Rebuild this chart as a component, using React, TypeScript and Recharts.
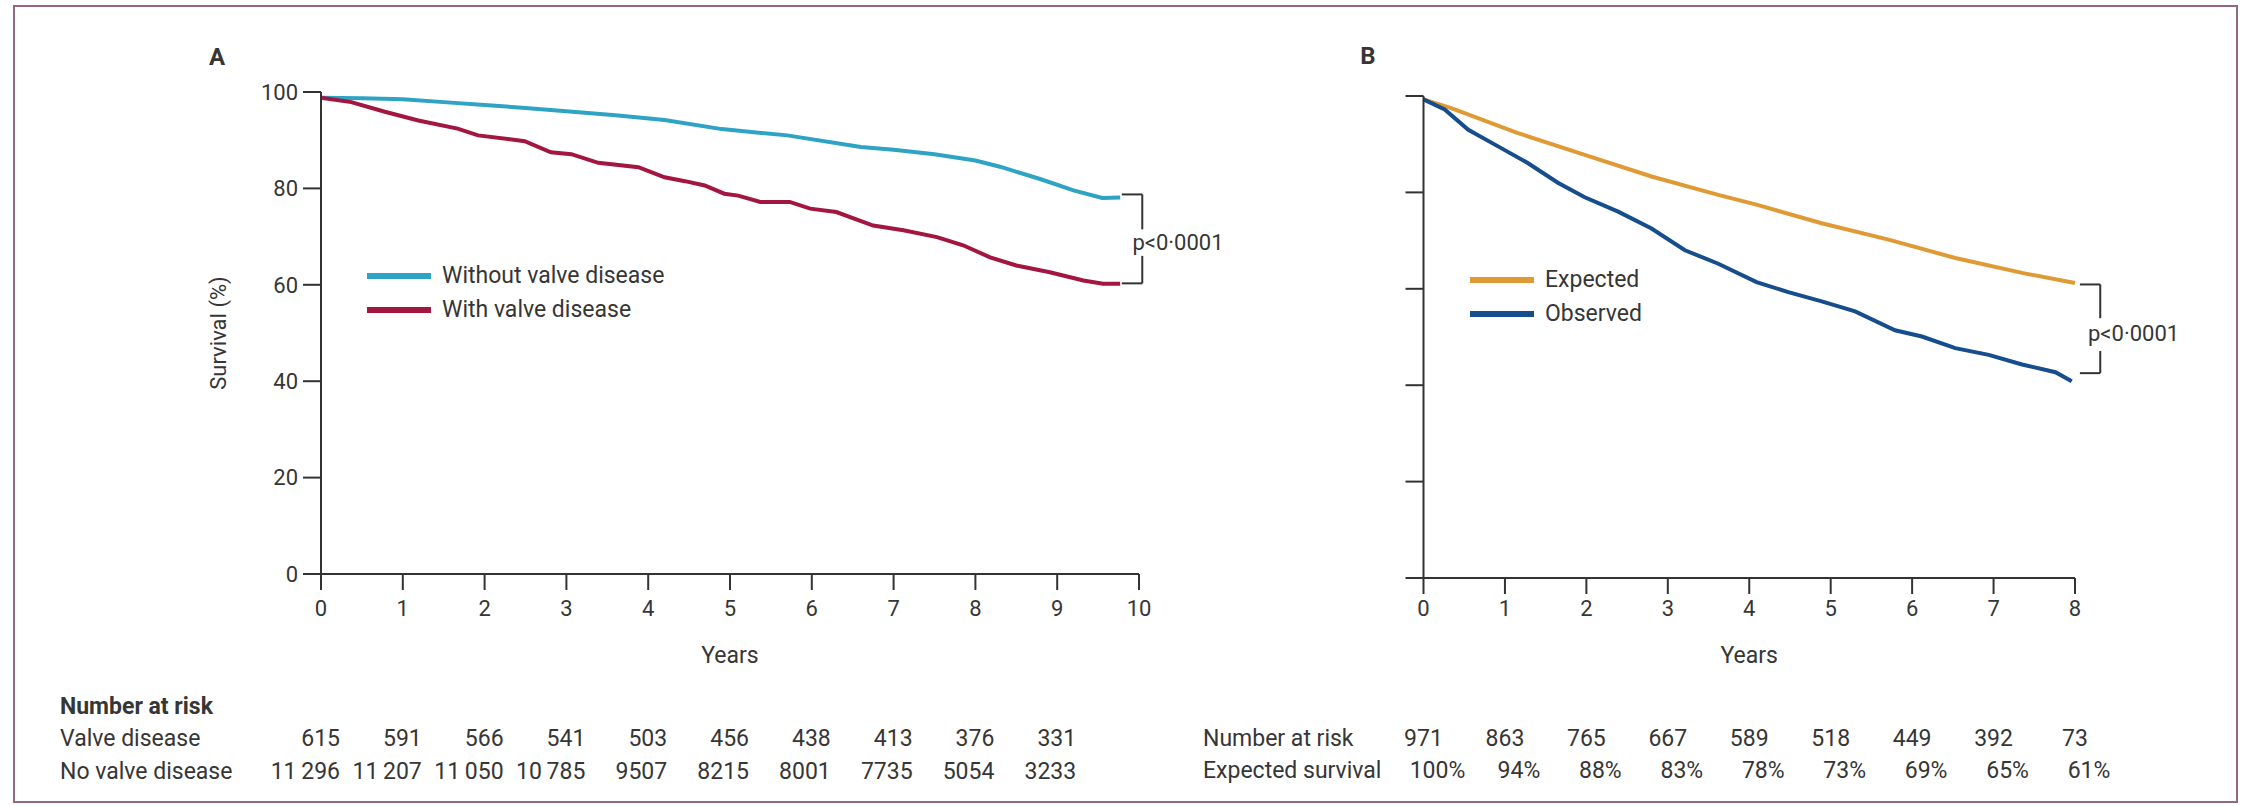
import React from "react";
import { LineChart, Line, XAxis, YAxis, ReferenceLine, ReferenceDot, Legend } from "recharts";

const W = 2244;
const H = 806;
const INK = "#363636";
const FONT = "Roboto, sans-serif";

const CYAN = "#2ea3c4";
const MAROON = "#a3163f";
const ORANGE = "#e09a35";
const NAVY = "#164d8c";

// panel A: survival with / without valve disease (years, %)
const yearsA = [0, 1, 2, 3, 4, 5, 6, 7, 8, 9, 10];
const withoutValve: [number, number][] = [
  [0, 98.8], [0.5, 98.7], [1.0, 98.5], [1.5, 97.9], [2.0, 97.3], [2.5, 96.7],
  [3.0, 96.0], [3.6, 95.2], [4.2, 94.2], [4.9, 92.3], [5.7, 91.0], [6.6, 88.6],
  [7.0, 88.0], [7.5, 87.1], [8.0, 85.8], [8.3, 84.5], [8.8, 81.9], [9.2, 79.6],
  [9.55, 78.0], [9.77, 78.1],
];
const withValve: [number, number][] = [
  [0, 98.8], [0.37, 97.9], [0.78, 95.9], [1.19, 94.1], [1.67, 92.4], [1.92, 91.0],
  [2.49, 89.8], [2.81, 87.5], [3.06, 87.1], [3.39, 85.3], [3.88, 84.4], [4.2, 82.3],
  [4.45, 81.5], [4.69, 80.6], [4.93, 78.9], [5.1, 78.5], [5.37, 77.2], [5.73, 77.2],
  [5.98, 75.8], [6.3, 75.1], [6.75, 72.3], [7.12, 71.3], [7.53, 69.9], [7.85, 68.2],
  [8.18, 65.7], [8.5, 64.0], [8.91, 62.6], [9.32, 60.9], [9.56, 60.2], [9.77, 60.2],
];
const riskValve = ["615", "591", "566", "541", "503", "456", "438", "413", "376", "331"];
const riskNoValve = ["11\u2009296", "11\u2009207", "11\u2009050", "10\u2009785", "9507", "8215", "8001", "7735", "5054", "3233"];

// panel B: observed vs expected survival
const yearsB = [0, 1, 2, 3, 4, 5, 6, 7, 8];
const expected: [number, number][] = [
  [0, 99.3], [0.34, 97.5], [1.16, 92.3], [1.98, 87.8], [2.8, 83.3], [3.62, 79.5],
  [4.1, 77.4], [4.89, 73.6], [5.71, 70.2], [6.53, 66.4], [7.35, 63.3], [8.0, 61.2],
];
const observed: [number, number][] = [
  [0, 99.3], [0.26, 97.2], [0.55, 93.0], [0.91, 89.6], [1.28, 86.1], [1.65, 82.0],
  [1.98, 79.0], [2.39, 76.0], [2.8, 72.5], [3.21, 68.0], [3.62, 65.2], [4.09, 61.4],
  [4.48, 59.3], [4.89, 57.4], [5.3, 55.3], [5.79, 51.4], [6.12, 50.1], [6.53, 47.7],
  [6.94, 46.3], [7.35, 44.3], [7.76, 42.7], [7.96, 40.8],
];
const riskB = ["971", "863", "765", "667", "589", "518", "449", "392", "73"];
const expectedRow = ["100%", "94%", "88%", "83%", "78%", "73%", "69%", "65%", "61%"];

const yTicks = [0, 20, 40, 60, 80, 100];
const pText = "p<0\u00b70001";

const toRows = (pts: [number, number][]) => pts.map(([t, v]) => ({ t, v }));

const legendA = [
  { label: "Without valve disease", color: CYAN },
  { label: "With valve disease", color: MAROON },
];
const legendB = [
  { label: "Expected", color: ORANGE },
  { label: "Observed", color: NAVY },
];

function LegendBox({ items }: { items: { label: string; color: string }[] }) {
  return (
    <div style={{ display: "flex", flexDirection: "column", fontFamily: FONT }}>
      {items.map((it) => (
        <div key={it.label} style={{ display: "flex", alignItems: "center", height: 34 }}>
          <div style={{ width: 64, height: 6, background: it.color }} />
          <span style={{ marginLeft: 11, fontSize: 23, color: INK, lineHeight: "34px", whiteSpace: "nowrap" }}>
            {it.label}
          </span>
        </div>
      ))}
    </div>
  );
}

function YearTickA(props: any) {
  const { x, y, payload, index } = props;
  return (
    <g fontFamily={FONT} fill={INK}>
      <text x={x} y={y} dy="0.71em" textAnchor="middle" fontSize={22}>{payload.value}</text>
      {riskValve[index] !== undefined && (
        <text x={x + 19} y={746} textAnchor="end" fontSize={23}>{riskValve[index]}</text>
      )}
      {riskNoValve[index] !== undefined && (
        <text x={x + 19} y={779} textAnchor="end" fontSize={23}>{riskNoValve[index]}</text>
      )}
    </g>
  );
}

function YearTickB(props: any) {
  const { x, y, payload, index } = props;
  return (
    <g fontFamily={FONT} fill={INK}>
      <text x={x} y={y} dy="0.71em" textAnchor="middle" fontSize={22}>{payload.value}</text>
      {riskB[index] !== undefined && (
        <text x={x} y={746} textAnchor="middle" fontSize={23}>{riskB[index]}</text>
      )}
      {expectedRow[index] !== undefined && (
        <text x={x + 14} y={778} textAnchor="middle" fontSize={23}>{expectedRow[index]}</text>
      )}
    </g>
  );
}

const PLabel = (p: any) => (
  <text x={p.cx} y={p.cy} dy="0.35em" fontFamily={FONT} fontSize={22} fill={INK}>{pText}</text>
);

const bracket = { stroke: "#333", strokeWidth: 2, ifOverflow: "visible" as const };

export default function App() {
  return (
    <div style={{ position: "absolute", left: 0, top: 0, width: W, height: H, background: "#fff", fontFamily: FONT }}>
      <div
        style={{
          position: "absolute", left: 13, top: 5, width: 2225, height: 798,
          border: "2px solid #946883", boxSizing: "border-box",
        }}
      />

      <div style={{ position: "absolute", left: 0, top: 0 }}>
        <LineChart width={W} height={H} margin={{ top: 92, right: W - 1139, bottom: 202, left: 115 }}>
          <XAxis
            type="number" dataKey="t" domain={[0, 10]} ticks={yearsA} height={30}
            stroke="#333" axisLine={{ strokeWidth: 2 }} tickLine={{ strokeWidth: 2 }}
            tickSize={16} tickMargin={10} tick={<YearTickA />} interval={0}
            label={{ value: "Years", position: "bottom", offset: 43, fill: INK, fontSize: 23, fontFamily: FONT }}
          />
          <YAxis
            type="number" domain={[0, 100]} ticks={yTicks} width={206}
            stroke="#333" axisLine={{ strokeWidth: 2 }} tickLine={{ strokeWidth: 2 }}
            tickSize={18} tickMargin={5} interval={0}
            tick={{ fill: INK, fontSize: 22, fontFamily: FONT }}
            label={{ value: "Survival (%)", angle: -90, position: "center", fill: INK, fontSize: 22, fontFamily: FONT }}
          />
          <Legend
            verticalAlign="middle" layout="horizontal"
            wrapperStyle={{ left: 367, top: 259, width: 400 }}
            content={() => <LegendBox items={legendA} />}
          />
          <Line data={toRows(withoutValve)} dataKey="v" type="linear" stroke={CYAN} strokeWidth={4} dot={false} isAnimationActive={false} />
          <Line data={toRows(withValve)} dataKey="v" type="linear" stroke={MAROON} strokeWidth={4} dot={false} isAnimationActive={false} />
          <ReferenceLine segment={[{ x: 9.79, y: 78.75 }, { x: 10.04, y: 78.75 }]} {...bracket} />
          <ReferenceLine segment={[{ x: 10.04, y: 78.75 }, { x: 10.04, y: 71.5 }]} {...bracket} />
          <ReferenceLine segment={[{ x: 10.04, y: 66 }, { x: 10.04, y: 60.3 }]} {...bracket} />
          <ReferenceLine segment={[{ x: 9.79, y: 60.3 }, { x: 10.04, y: 60.3 }]} {...bracket} />
          <ReferenceDot x={9.92} y={68.8} ifOverflow="visible" shape={PLabel} />
        </LineChart>
      </div>

      <div style={{ position: "absolute", left: 0, top: 0 }}>
        <LineChart width={W} height={H} margin={{ top: 96, right: W - 2075, bottom: 198, left: 1363.5 }}>
          <XAxis
            type="number" dataKey="t" domain={[0, 8]} ticks={yearsB} height={30}
            stroke="#333" axisLine={{ strokeWidth: 2 }} tickLine={{ strokeWidth: 2 }}
            tickSize={16} tickMargin={6} tick={<YearTickB />} interval={0}
            label={{ value: "Years", position: "bottom", offset: 39, fill: INK, fontSize: 23, fontFamily: FONT }}
          />
          <YAxis
            type="number" domain={[0, 100]} ticks={yTicks} width={60}
            stroke="#333" axisLine={{ strokeWidth: 2 }} tickLine={{ strokeWidth: 2 }}
            tickSize={18} interval={0} tickFormatter={() => ""}
          />
          <Legend
            verticalAlign="middle" layout="horizontal"
            wrapperStyle={{ left: 1470, top: 263, width: 300 }}
            content={() => <LegendBox items={legendB} />}
          />
          <Line data={toRows(expected)} dataKey="v" type="linear" stroke={ORANGE} strokeWidth={4} dot={false} isAnimationActive={false} />
          <Line data={toRows(observed)} dataKey="v" type="linear" stroke={NAVY} strokeWidth={4} dot={false} isAnimationActive={false} />
          <ReferenceLine segment={[{ x: 8.06, y: 60.9 }, { x: 8.31, y: 60.9 }]} {...bracket} />
          <ReferenceLine segment={[{ x: 8.31, y: 60.9 }, { x: 8.31, y: 53.9 }]} {...bracket} />
          <ReferenceLine segment={[{ x: 8.31, y: 47.1 }, { x: 8.31, y: 42.5 }]} {...bracket} />
          <ReferenceLine segment={[{ x: 8.06, y: 42.5 }, { x: 8.31, y: 42.5 }]} {...bracket} />
          <ReferenceDot x={8.16} y={50.8} ifOverflow="visible" shape={PLabel} />
        </LineChart>
      </div>

      <svg width={W} height={H} style={{ position: "absolute", left: 0, top: 0, pointerEvents: "none" }}>
        <g fontFamily={FONT} fill={INK}>
          <text x={217} y={65} textAnchor="middle" fontSize={24} fontWeight={700}>A</text>
          <text x={1368} y={64} textAnchor="middle" fontSize={24} fontWeight={700}>B</text>
          <text x={60} y={714} fontSize={23} fontWeight={700}>Number at risk</text>
          <text x={60} y={746} fontSize={23}>Valve disease</text>
          <text x={60} y={779} fontSize={23}>No valve disease</text>
          <text x={1203} y={746} fontSize={23}>Number at risk</text>
          <text x={1203} y={778} fontSize={23}>Expected survival</text>
        </g>
      </svg>
    </div>
  );
}
